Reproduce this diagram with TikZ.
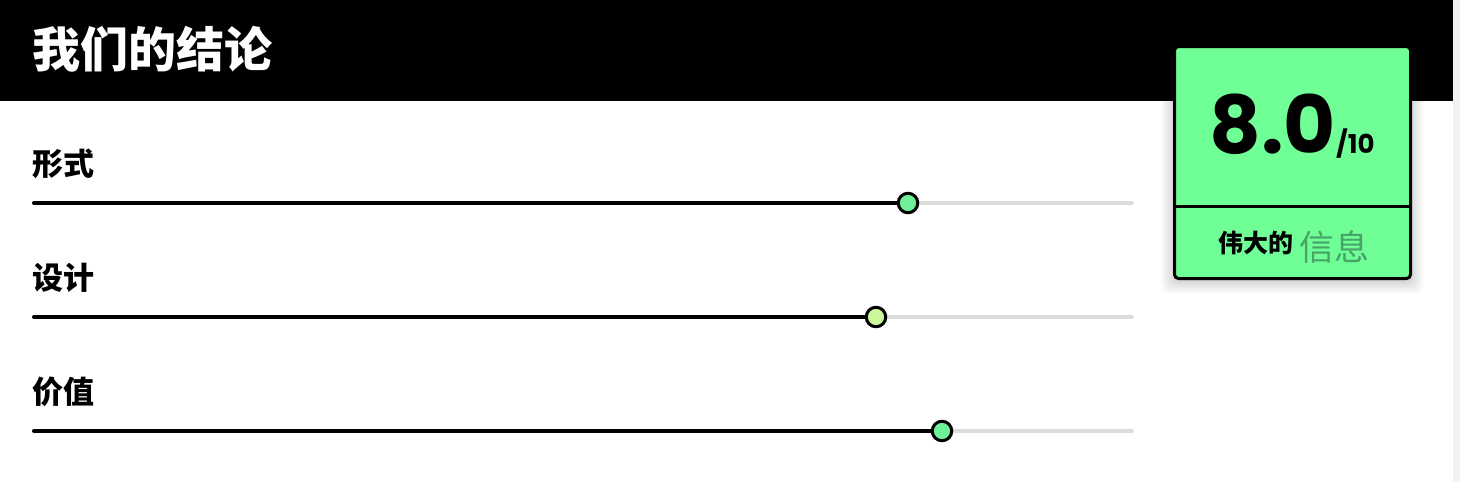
\documentclass[tikz,border=0pt]{standalone}
\usepackage{fontspec}
\setmainfont{Noto Sans CJK SC}
\newfontfamily\pop{Poppins}
\definecolor{scoregreen}{HTML}{70FF96}
\definecolor{knobA}{HTML}{6FF199}
\definecolor{knobB}{HTML}{CCF79B}
\definecolor{trackgray}{HTML}{D9DEDD}
\definecolor{infogreen}{HTML}{47A366}
\definecolor{edgegray}{HTML}{F2F2F2}
\tikzset{
  lbl/.style={anchor=west, inner sep=0pt, font=\fontsize{31}{31}\selectfont\bfseries},
  knob/.style={circle, draw=black, line width=3pt, minimum size=19.5pt, inner sep=0pt},
  track/.style={line width=3.6pt, line cap=round, trackgray},
  donetrack/.style={line width=4pt, line cap=round, black},
  scorebox/.style={draw=black, line width=3pt, rounded corners=4pt, fill=scoregreen,
    minimum width=236pt, minimum height=232pt, inner sep=0pt},
  shadowstep/.style={fill=black, fill opacity=0.011, rounded corners=8pt},
}
\begin{document}
\begin{tikzpicture}[x=1pt,y=-1pt]
\useasboundingbox (0,0) rectangle (1460,482);
\fill[white] (0,0) rectangle (1460,482);
\fill[edgegray] (1453,0) rectangle (1460,482);
% soft shadow of the score box
\foreach \i in {1,...,14} {
  \fill[shadowstep] (1173-\i+2,50-\i+6) rectangle (1412+\i-2,280+\i);
}
% header
\fill[black] (0,0) rectangle (1453,100.5);
\node[anchor=west, inner sep=0pt, text=white, font=\fontsize{48}{48}\selectfont\bfseries] (title) at (32,49) {我们的结论};
% labels
\node[lbl] (l1) at (32,164) {形式};
\node[lbl] (l2) at (32,278) {设计};
\node[lbl] (l3) at (32,392) {价值};
% tracks
\coordinate (s1) at (34,203);   \coordinate (e1) at (1132,203);  \coordinate (p1) at (908,203);
\coordinate (s2) at (34,317);   \coordinate (e2) at (1132,317);  \coordinate (p2) at (876,317);
\coordinate (s3) at (34,431);   \coordinate (e3) at (1132,431);  \coordinate (p3) at (942,431);
\draw[track] (s1) -- (e1);
\draw[track] (s2) -- (e2);
\draw[track] (s3) -- (e3);
\draw[donetrack] (s1) -- (p1);
\draw[donetrack] (s2) -- (p2);
\draw[donetrack] (s3) -- (p3);
\node[knob, fill=knobA] (k1) at (p1) {};
\node[knob, fill=knobB] (k2) at (p2) {};
\node[knob, fill=knobA] (k3) at (p3) {};
% score box
\node[scorebox] (score) at (1292.5,162.5) {};
\draw[line width=3pt] (score.west |- 0,206.5) -- (score.east |- 0,206.5);
\node[anchor=base west, inner sep=0pt, font=\pop\bfseries\fontsize{80}{80}\selectfont] (num) at (1209,153) {8.0};
\node[anchor=base west, inner sep=0pt, font=\pop\bfseries\fontsize{26}{26}\selectfont] (den) at (num.base east) {/10};
\node[anchor=east, inner sep=0pt, font=\fontsize{25}{25}\selectfont\bfseries] (great) at (1294,243) {伟大的};
\node[anchor=west, inner sep=0pt, text=infogreen, font=\fontsize{35}{35}\selectfont] (info) at (1299,247) {信息};
\end{tikzpicture}
\end{document}
